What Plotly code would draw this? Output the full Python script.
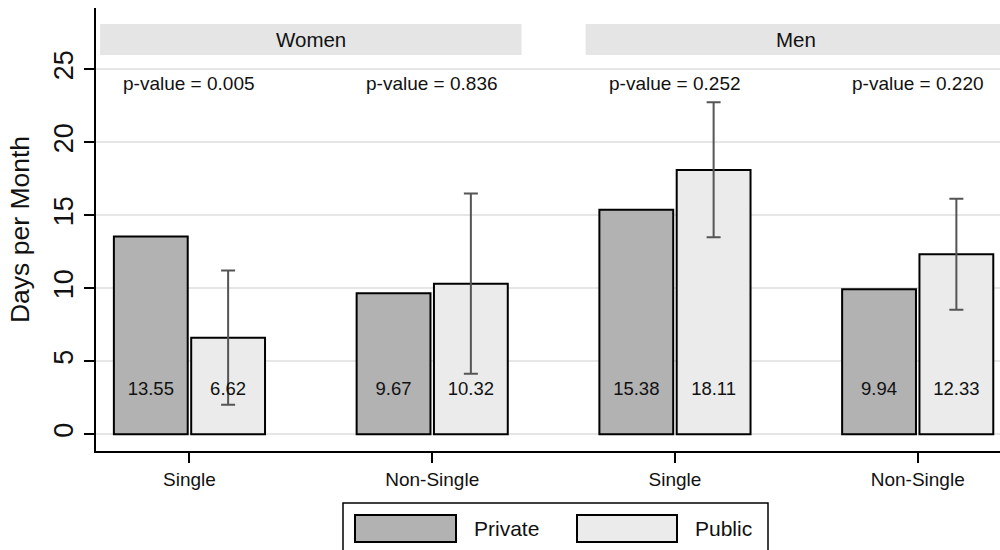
import plotly.graph_objects as go

# ---- data ----
panels = ["Women", "Men"]
marital = ["Single", "Non-Single", "Single", "Non-Single"]
panel_of = ["Women", "Women", "Men", "Men"]
private_vals = [13.55, 9.67, 15.38, 9.94]
public_vals = [6.62, 10.32, 18.11, 12.33]
public_ci_low = [2.03, 4.15, 13.50, 8.53]
public_ci_high = [11.22, 16.50, 22.75, 16.14]
p_values = ["0.005", "0.836", "0.252", "0.220"]
y_ticks = [0, 5, 10, 15, 20, 25]

FONT = "Liberation Sans, Arial, Helvetica, sans-serif"
PRIV_COL = "#b2b2b2"
PUB_COL = "#ebebeb"
TXT = "#111111"

x = list(range(len(marital)))
err_plus = [h - v for h, v in zip(public_ci_high, public_vals)]
err_minus = [v - l for l, v in zip(public_ci_low, public_vals)]

W, H = 1000, 550
ML, MR, MT, MB = 96, 0, 8, 99
PW, PH = W - ML - MR, H - MT - MB


def xp(px):
    return (px - ML) / PW


def yp(py):
    return (H - MB - py) / PH


fig = go.Figure()
fig.add_trace(go.Bar(
    x=x, y=private_vals, name="Private", offsetgroup="priv",
    marker=dict(color=PRIV_COL, line=dict(color="black", width=2)),
    hoverinfo="skip"))
fig.add_trace(go.Bar(
    x=x, y=public_vals, name="Public", offsetgroup="pub",
    marker=dict(color=PUB_COL, line=dict(color="black", width=2)),
    error_y=dict(type="data", symmetric=False, array=err_plus, arrayminus=err_minus,
                 color="#555555", thickness=2, width=7),
    hoverinfo="skip"))
# value labels inside bars
fig.add_trace(go.Scatter(
    x=x, y=[3] * len(x), mode="text", offsetgroup="priv",
    text=[f"{v:.2f}" for v in private_vals],
    textfont=dict(family=FONT, size=18.5, color=TXT), hoverinfo="skip"))
fig.add_trace(go.Scatter(
    x=x, y=[3] * len(x), mode="text", offsetgroup="pub",
    text=[f"{v:.2f}" for v in public_vals],
    textfont=dict(family=FONT, size=18.5, color=TXT), hoverinfo="skip"))

shapes = []
annotations = []
# panel strips
for i, p in enumerate(panels):
    idx = [k for k, q in enumerate(panel_of) if q == p]
    c = sum(idx) / len(idx)
    half = (max(idx) - min(idx)) / 2 + 0.368
    shapes.append(dict(type="rect", xref="x", yref="paper", x0=c - half, x1=c + half,
                       y0=yp(55), y1=yp(24), fillcolor="#e5e5e5", line=dict(width=0),
                       layer="below"))
    annotations.append(dict(xref="x", yref="paper", x=c, y=yp(39.5), text=p,
                            xanchor="center", yanchor="middle",
                            showarrow=False, font=dict(family=FONT, size=20.5, color=TXT)))
# p-values
for i, pv in enumerate(p_values):
    annotations.append(dict(xref="x", yref="y", x=x[i], y=24.05, text=f"p-value = {pv}",
                            xanchor="center", yanchor="middle",
                            showarrow=False, font=dict(family=FONT, size=19, color=TXT)))

# legend (drawn manually)
shapes.append(dict(type="rect", xref="paper", yref="paper", x0=xp(343), x1=xp(768),
                   y0=yp(562), y1=yp(503), fillcolor="white", line=dict(color="black", width=1.5)))
for name, col, x0, x1, tx in [("Private", PRIV_COL, 355, 456, 472), ("Public", PUB_COL, 577, 677, 693)]:
    shapes.append(dict(type="rect", xref="paper", yref="paper", x0=xp(x0), x1=xp(x1),
                       y0=yp(542), y1=yp(515), fillcolor=col, line=dict(color="black", width=2)))
    annotations.append(dict(xref="paper", yref="paper", x=xp(tx), y=yp(528.5), text=name,
                            xanchor="left", yanchor="middle", showarrow=False,
                            font=dict(family=FONT, size=21, color=TXT)))

fig.update_layout(
    width=W, height=H,
    margin=dict(l=ML, r=MR, t=MT, b=MB, autoexpand=False),
    paper_bgcolor="white", plot_bgcolor="white",
    barmode="group", bargap=0.363, bargroupgap=0.045,
    scattermode="group", scattergap=0.363,
    showlegend=False,
    shapes=shapes, annotations=annotations,
    font=dict(family=FONT, color=TXT),
)
fig.update_xaxes(
    range=[-0.385, 3.339], tickvals=x, ticktext=marital,
    showline=True, linecolor="black", linewidth=1.5,
    ticks="outside", ticklen=10, tickcolor="black", tickwidth=1.5,
    showgrid=False, zeroline=False, tickfont=dict(family=FONT, size=19, color=TXT),
    fixedrange=True)
fig.update_yaxes(
    range=[-1.14, 29.2], tickvals=y_ticks, ticktext=[str(t) for t in y_ticks], tickangle=-90,
    showline=True, linecolor="black", linewidth=1.5,
    ticks="outside", ticklen=10, tickcolor="black", tickwidth=1.5,
    showgrid=True, gridcolor="#e6e6e6", gridwidth=2, zeroline=False,
    tickfont=dict(family=FONT, size=27, color=TXT),
    title=dict(text="Days per Month", font=dict(family=FONT, size=26.5, color=TXT), standoff=12),
    fixedrange=True)

fig.write_html("out.html", config={"displayModeBar": False},
               post_script="document.body.style.margin='0';document.body.style.padding='0';")
